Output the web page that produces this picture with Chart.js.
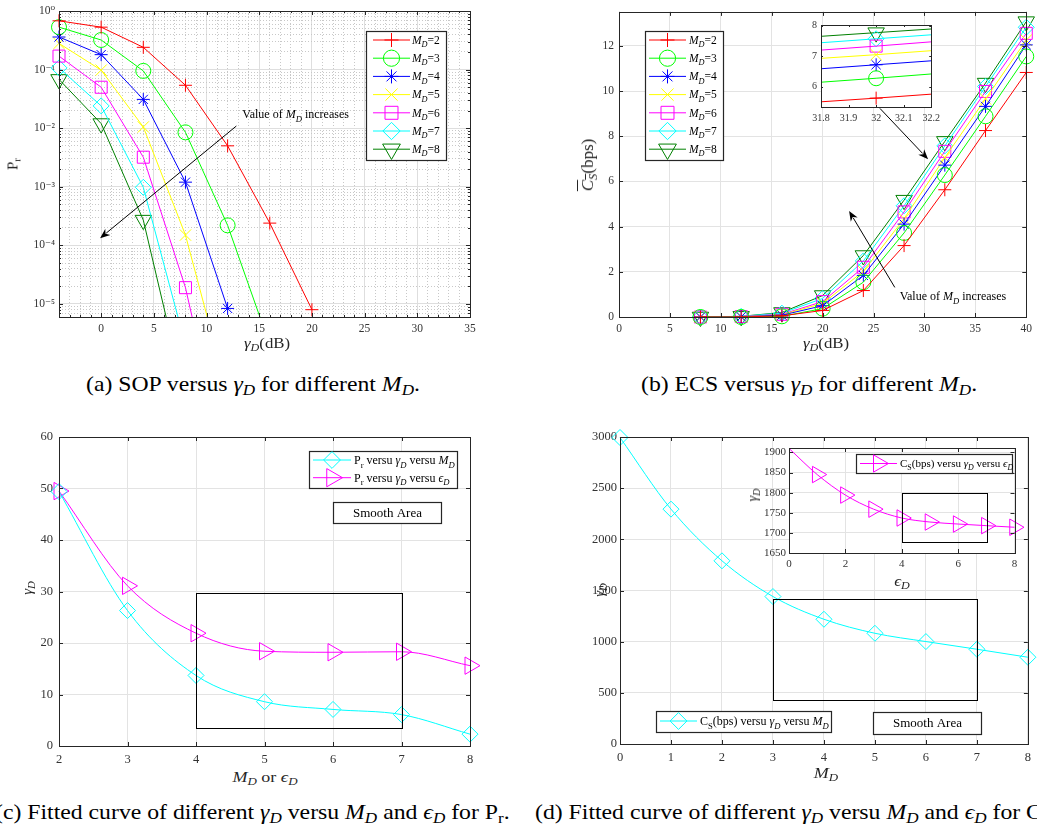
<!DOCTYPE html>
<html lang="en">
<head>
<meta charset="UTF-8" />
<title>SOP and ECS versus gamma_D</title>
<script src="https://cdn.jsdelivr.net/npm/chart.js"></script>
<style>
  body { margin: 0; background: #fff; width: 1037px; height: 827px; overflow: hidden; position: relative;
         font-family: "Liberation Serif", "DejaVu Serif", serif; color: #262626; }
  canvas { position: absolute; }
  .lbl { position: absolute; white-space: nowrap; transform: translate(-50%, -50%); font-size: 14px; }
  .wide { transform: translate(-50%, -50%) scaleX(1.2); }
  .rot { transform: translate(-50%, -50%) rotate(-90deg); }
  .cap { position: absolute; white-space: nowrap; font-size: 21px; color: #000;
         transform: translateY(-50%) scaleX(1.13); transform-origin: left center; }
  sub { font-size: 72%; vertical-align: -0.3em; line-height: 0; }
</style>
</head>
<body>
<canvas id="cA" width="520" height="340" style="left:0;top:0"></canvas>
<canvas id="cB" width="517" height="340" style="left:520px;top:0"></canvas>
<canvas id="cBi" width="165" height="110" style="left:780px;top:15px"></canvas>
<canvas id="cC" width="520" height="345" style="left:0;top:420px"></canvas>
<canvas id="cD" width="517" height="345" style="left:520px;top:420px"></canvas>
<canvas id="cDi" width="285" height="140" style="left:740px;top:435px"></canvas>

<!-- axis titles -->
<div class="lbl wide" style="left:267px;top:344px"><i>γ<sub>D</sub></i>(dB)</div>
<div class="lbl rot" style="left:13px;top:164px;font-size:15px">P<sub>r</sub></div>
<div class="lbl wide" style="left:826px;top:344px"><i>γ<sub>D</sub></i>(dB)</div>
<div class="lbl rot" style="left:588px;top:165px;font-size:17px"><span style="text-decoration:overline"><i>C<sub>S</sub></i></span>(bps)</div>
<div class="lbl wide" style="left:265px;top:777px;font-size:15px"><i>M<sub>D</sub></i> or <i>ϵ<sub>D</sub></i></div>
<div class="lbl rot" style="left:27px;top:588px;font-size:15px"><i>γ<sub>D</sub></i></div>
<div class="lbl wide" style="left:826px;top:773px;font-size:15px"><i>M<sub>D</sub></i></div>
<div class="lbl rot" style="left:599px;top:590px;font-size:15px"><i>γ<sub>D</sub></i></div>
<div class="lbl rot" style="left:753px;top:495px;font-size:14px"><i>γ<sub>D</sub></i></div>
<div class="lbl wide" style="left:902px;top:582px;font-size:14px"><i>ϵ<sub>D</sub></i></div>

<!-- captions -->
<div class="cap" style="left:86px;top:384px">(a) SOP versus <i>γ<sub>D</sub></i> for different <i>M<sub>D</sub></i>.</div>
<div class="cap" style="left:641px;top:384px">(b) ECS versus <i>γ<sub>D</sub></i> for different <i>M<sub>D</sub></i>.</div>
<div class="cap" style="left:-5px;top:812px">(c) Fitted curve of different <i>γ<sub>D</sub></i> versu <i>M<sub>D</sub></i> and <i>ϵ<sub>D</sub></i> for P<sub>r</sub>.</div>
<div class="cap" style="left:535px;top:812px">(d) Fitted curve of different <i>γ<sub>D</sub></i> versu <i>M<sub>D</sub></i> and <i>ϵ<sub>D</sub></i> for C<sub>S</sub>.</div>

<script>
// ---- data ----
const mdValues = [2, 3, 4, 5, 6, 7, 8];

// (a) SOP versus gamma_D
const snrA = [-4, 0, 4, 8, 12, 16, 20];
const sopM2 = [0.68, 0.53, 0.24, 0.054, 0.005, 2.4e-4, 8e-6];
const sopM3 = [0.53, 0.32, 0.095, 0.0085, 2.2e-4, 2e-6];
const sopM4 = [0.36, 0.18, 0.031, 1.2e-3, 8.4e-6];
const sopM5 = [0.28, 0.098, 0.0105, 1.5e-4, 3e-7];
const sopM6 = [0.17, 0.05, 3.2e-3, 1.9e-5, 1.3e-8];
const sopM7 = [0.107, 0.024, 9.8e-4, 2e-6];
const sopM8 = [0.068, 0.012, 2.7e-4, 2.4e-7];

// (b) ECS versus gamma_D
const snrB = [8, 12, 16, 20, 24, 28, 32, 36, 40];
const ecsM2 = [0, 0, 0.05, 0.29, 1.17, 3.16, 5.63, 8.25, 10.82];
const ecsM3 = [0, 0, 0.03, 0.37, 1.54, 3.72, 6.28, 8.88, 11.53];
const ecsM4 = [0, 0.01, 0.08, 0.5, 1.84, 4.11, 6.72, 9.32, 12.04];
const ecsM5 = [0, 0.01, 0.1, 0.6, 2.02, 4.35, 7.05, 9.65, 12.25];
const ecsM6 = [0, 0.02, 0.12, 0.68, 2.2, 4.65, 7.33, 9.98, 12.55];
const ecsM7 = [0, 0.03, 0.17, 0.82, 2.48, 4.92, 7.57, 10.2, 12.82];
const ecsM8 = [0, 0.03, 0.2, 0.95, 2.72, 5.17, 7.77, 10.35, 13.07];

// (b) zoomed inset around gamma_D = 32 dB
const snrZoom = [31.8, 32, 32.2];
const zoomM2 = [5.51, 5.63, 5.76];
const zoomM3 = [6.15, 6.28, 6.42];
const zoomM4 = [6.59, 6.72, 6.85];
const zoomM5 = [6.93, 7.05, 7.18];
const zoomM6 = [7.2, 7.33, 7.47];
const zoomM7 = [7.44, 7.57, 7.7];
const zoomM8 = [7.65, 7.77, 7.89];

// (c) fitted gamma_D for Pr
const xC = [2, 3, 4, 5, 6, 7, 8];
const gammaVsMd = [49.4, 26.3, 13.7, 8.6, 7.1, 6.1, 2.3];
const gammaVsEps = [49.5, 31.1, 21.9, 18.4, 18.2, 18.3, 15.6];

// (d) fitted gamma_D for Cs
const xD = [0, 1, 2, 3, 4, 5, 6, 7, 8];
const csVsMd = [2995, 2295, 1790, 1441, 1219, 1082, 1001, 926, 848];
const epsD = [0, 1, 2, 3, 4, 5, 6, 7, 8];
const csVsEps = [1910, 1845, 1794, 1759, 1737, 1727, 1722, 1718, 1714];

// smooth areas (data coords: x0, x1, y0, y1)
const smoothC = [4, 7, 3.6, 29.8];
const smoothD = [3, 7, 430, 1415];
const smoothDi = [4, 7, 1679, 1800];

// ticks
const xTicksA = []; for (let v = -4; v <= 35; v++) xTicksA.push(v);
const yTicksA = [];
for (let e = -6; e <= 0; e++) for (let m = 1; m <= 9; m++) { const v = m * Math.pow(10, e); if (v >= 6e-6 && v <= 1.0001) yTicksA.push(v); }
const xTicksB = [0, 5, 10, 15, 20, 25, 30, 35, 40];
const yTicksB = [0, 2, 4, 6, 8, 10, 12];
const xTicksZoom = [31.8, 31.9, 32, 32.1, 32.2];
const yTicksZoom = [6, 7, 8];
const xTicksC = [2, 3, 4, 5, 6, 7, 8];
const yTicksC = [0, 10, 20, 30, 40, 50, 60];
const xTicksD = [0, 1, 2, 3, 4, 5, 6, 7, 8];
const yTicksD = [0, 500, 1000, 1500, 2000, 2500, 3000];
const xTicksDi = [0, 2, 4, 6, 8];
const yTicksDi = [1650, 1700, 1750, 1800, 1850, 1900];

// ---- styles ----
const mdColors = ['#ff0000', '#00ff00', '#0000ff', '#ffff00', '#ff00ff', '#00ffff', '#008000'];
const mdStyles = ['cross', 'circle', 'star', 'crossRot', 'rect', 'rectRot', 'triangle'];
const mdRadius = [6.5, 7.5, 6.5, 8, 8.5, 8, 9.5];
const mdRotation = [0, 0, 0, 0, 0, 0, 180];
const FONT = '"Liberation Serif", "DejaVu Serif", serif';

Chart.defaults.font.family = FONT;
Chart.defaults.font.size = 12;
Chart.defaults.color = '#333';
Chart.defaults.animation = false;
Chart.defaults.responsive = false;

const isDecade = v => Math.abs(Math.log10(v) - Math.round(Math.log10(v))) < 1e-9;
const supMap = { '0': '⁰', '1': '¹', '2': '²', '3': '³', '4': '⁴', '5': '⁵', '6': '⁶', '7': '⁷', '8': '⁸', '9': '⁹', '-': '⁻' };
const sup = n => String(n).split('').map(c => supMap[c]).join('');

function mdDatasets(xs, series, extra, radiusList) {
  return series.map((ys, i) => Object.assign({
    label: 'M_D=' + mdValues[i],
    data: ys.map((y, j) => ({ x: xs[j], y: y })),
    borderColor: mdColors[i],
    borderWidth: 1,
    pointStyle: mdStyles[i],
    pointRadius: radiusList ? radiusList.map(r => r && mdRadius[i]) : mdRadius[i],
    pointRotation: mdRotation[i],
    pointBorderColor: mdColors[i],
    pointBackgroundColor: 'rgba(0,0,0,0)',
    pointBorderWidth: 1
  }, extra));
}

function axis(o) {
  return {
    type: o.type || 'linear', min: o.min, max: o.max,
    afterFit: s => { if (o.w !== undefined) s.width = o.w; if (o.h !== undefined) s.height = o.h; },
    afterBuildTicks: s => { s.ticks = o.ticks.map(v => ({ value: v })); },
    ticks: { autoSkip: false, maxRotation: 0, padding: o.pad, font: { size: o.size || 12 }, callback: o.label || (v => String(v)) },
    grid: { display: o.grid !== false, drawTicks: false, color: o.gridColor || '#e3e3e3' },
    border: { display: false, dash: o.dash || [] }
  };
}

// ---- decoration plugin: box, inward ticks, legends, arrows, notes ----
function drawMarker(ctx, style, x, y, r, rot) {
  ctx.save(); ctx.translate(x, y); ctx.rotate((rot || 0) * Math.PI / 180);
  ctx.beginPath();
  const d = r * Math.SQRT1_2;
  if (style === 'cross' || style === 'star') { ctx.moveTo(-r, 0); ctx.lineTo(r, 0); ctx.moveTo(0, -r); ctx.lineTo(0, r); }
  if (style === 'crossRot' || style === 'star') { ctx.moveTo(-d, -d); ctx.lineTo(d, d); ctx.moveTo(-d, d); ctx.lineTo(d, -d); }
  if (style === 'circle') ctx.arc(0, 0, r, 0, Math.PI * 2);
  if (style === 'rect') ctx.rect(-d, -d, 2 * d, 2 * d);
  if (style === 'rectRot') { ctx.moveTo(0, -r); ctx.lineTo(r, 0); ctx.lineTo(0, r); ctx.lineTo(-r, 0); ctx.closePath(); }
  if (style === 'triangle') {
    for (let k = 0; k < 3; k++) { const a = k * 2 * Math.PI / 3; ctx[k ? 'lineTo' : 'moveTo'](Math.sin(a) * r, -Math.cos(a) * r); }
    ctx.closePath();
  }
  ctx.stroke(); ctx.restore();
}

function drawRich(ctx, segs, x, y, size) {
  ctx.textAlign = 'left'; ctx.textBaseline = 'alphabetic'; ctx.fillStyle = '#000';
  const base = y + size * 0.33;
  segs.forEach(([t, f]) => {
    const it = f.indexOf('i') >= 0, sb = f.indexOf('s') >= 0;
    const fs = sb ? size * 0.72 : size;
    ctx.font = (it ? 'italic ' : '') + fs + 'px ' + FONT;
    ctx.fillText(t, x, base + (sb ? size * 0.3 : 0));
    x += ctx.measureText(t).width;
  });
}

function drawArrow(ctx, x0, y0, x1, y1) {
  const a = Math.atan2(y1 - y0, x1 - x0), L = 10, W = 4;
  ctx.strokeStyle = '#000'; ctx.fillStyle = '#000'; ctx.lineWidth = 1;
  ctx.beginPath(); ctx.moveTo(x0, y0); ctx.lineTo(x1 - Math.cos(a) * L * 0.8, y1 - Math.sin(a) * L * 0.8); ctx.stroke();
  ctx.beginPath();
  ctx.moveTo(x1, y1);
  ctx.lineTo(x1 - Math.cos(a) * L + Math.sin(a) * W, y1 - Math.sin(a) * L - Math.cos(a) * W);
  ctx.lineTo(x1 - Math.cos(a) * L * 0.7, y1 - Math.sin(a) * L * 0.7);
  ctx.lineTo(x1 - Math.cos(a) * L - Math.sin(a) * W, y1 - Math.sin(a) * L + Math.cos(a) * W);
  ctx.closePath(); ctx.fill();
}

const mdLegendEntries = mdValues.map((m, i) => ({ ds: i, segs: [['M', 'i'], ['D', 'is'], ['=' + m, '']] }));
const mdLegendRows = [40, 58.2, 76.4, 94.6, 112.8, 131, 149.2];

const decoCfg = {
  cA: {
    xTick: v => (v % 5 === 0 ? 4 : 2), yTick: v => (isDecade(v) ? 4 : 2),
    arrows: [[12.83, 0.0109, -0.1, 1.33e-4]],
    notes: [{ at: [13.4, 0.0174], size: 12, segs: [['Value of ', ''], ['M', 'i'], ['D', 'is'], [' increases', '']] }],
    legend: { box: [366, 31, 80, 129], rows: mdLegendRows, line: [373, 410], textX: 412, size: 11.5, scale: 1.08, entries: mdLegendEntries }
  },
  cB: {
    arrows: [[25.63, 9.23, 30.36, 6.98], [27.09, 1.31, 22.6, 4.69]],
    notes: [{ at: [27.57, 0.91], size: 12, segs: [['Value of ', ''], ['M', 'i'], ['D', 'is'], [' increases', '']] }],
    legend: { box: [125, 31, 78, 129], rows: mdLegendRows, line: [129, 166], textX: 169, size: 11.5, scale: 1.08, entries: mdLegendEntries }
  },
  cBi: { white: true, xTick: () => 2, yTick: () => 2 },
  cC: {
    boxes: [smoothC],
    labels: [{ box: [333, 82, 108, 21], text: 'Smooth Area', size: 13 }],
    legend: { box: [309, 31, 148, 37], rows: [40, 57.7], line: [313, 351], textX: 354, size: 12, scale: 1.05, entries: [
      { ds: 0, segs: [['P', ''], ['r', 's'], [' versu ', ''], ['γ', 'i'], ['D', 'is'], [' versu ', ''], ['M', 'i'], ['D', 'is']] },
      { ds: 1, segs: [['P', ''], ['r', 's'], [' versu ', ''], ['γ', 'i'], ['D', 'is'], [' versu ', ''], ['ϵ', 'i'], ['D', 'is']] }] }
  },
  cD: {
    boxes: [smoothD],
    labels: [{ box: [353, 292, 108, 22], text: 'Smooth Area', size: 13 }],
    legend: { box: [136, 291, 175, 21], rows: [301], line: [140, 177], textX: 180, size: 12, scale: 1.05, entries: [
      { ds: 0, segs: [['C', ''], ['S', 's'], ['(bps) versu ', ''], ['γ', 'i'], ['D', 'is'], [' versu ', ''], ['M', 'i'], ['D', 'is']] }] }
  },
  cDi: {
    white: true,
    boxes: [smoothDi],
    legend: { box: [116, 19, 156, 19], rows: [28.5], line: [120, 157], textX: 160, size: 11, scale: 1.05, entries: [
      { ds: 0, segs: [['C', ''], ['S', 's'], ['(bps) versu ', ''], ['γ', 'i'], ['D', 'is'], [' versu ', ''], ['ϵ', 'i'], ['D', 'is']] }] }
  }
};

const deco = {
  id: 'deco',
  beforeDraw(chart) {
    const cfg = decoCfg[chart.canvas.id];
    if (!cfg || !cfg.white) return;
    const a = chart.chartArea, ctx = chart.ctx;
    ctx.save(); ctx.fillStyle = '#fff'; ctx.fillRect(a.left, a.top, a.right - a.left, a.bottom - a.top); ctx.restore();
  },
  afterDatasetsDraw(chart) {
    const cfg = decoCfg[chart.canvas.id];
    if (!cfg) return;
    const ctx = chart.ctx, a = chart.chartArea, sx = chart.scales.x, sy = chart.scales.y;
    ctx.save();
    ctx.strokeStyle = '#262626'; ctx.lineWidth = 1;
    ctx.beginPath();
    sx.ticks.forEach(t => {
      const p = Math.round(sx.getPixelForValue(t.value)) + 0.5, L = cfg.xTick ? cfg.xTick(t.value) : 4;
      ctx.moveTo(p, a.bottom); ctx.lineTo(p, a.bottom - L); ctx.moveTo(p, a.top); ctx.lineTo(p, a.top + L);
    });
    sy.ticks.forEach(t => {
      const p = Math.round(sy.getPixelForValue(t.value)) + 0.5, L = cfg.yTick ? cfg.yTick(t.value) : 4;
      ctx.moveTo(a.left, p); ctx.lineTo(a.left + L, p); ctx.moveTo(a.right, p); ctx.lineTo(a.right - L, p);
    });
    ctx.stroke();
    ctx.strokeRect(Math.round(a.left) + 0.5, Math.round(a.top) + 0.5, Math.round(a.right - a.left), Math.round(a.bottom - a.top));

    (cfg.boxes || []).forEach(b => {
      const x0 = sx.getPixelForValue(b[0]), x1 = sx.getPixelForValue(b[1]);
      const y0 = sy.getPixelForValue(b[2]), y1 = sy.getPixelForValue(b[3]);
      ctx.strokeStyle = '#000'; ctx.lineWidth = 1;
      ctx.strokeRect(Math.round(x0) + 0.5, Math.round(y1) + 0.5, Math.round(x1 - x0), Math.round(y0 - y1));
    });
    (cfg.arrows || []).forEach(r => drawArrow(ctx, sx.getPixelForValue(r[0]), sy.getPixelForValue(r[1]), sx.getPixelForValue(r[2]), sy.getPixelForValue(r[3])));
    (cfg.notes || []).forEach(n => drawRich(ctx, n.segs, sx.getPixelForValue(n.at[0]), sy.getPixelForValue(n.at[1]), n.size));
    (cfg.labels || []).forEach(l => {
      const [x, y, w, h] = l.box;
      ctx.fillStyle = '#fff'; ctx.fillRect(x, y, w, h);
      ctx.strokeStyle = '#262626'; ctx.lineWidth = 1.2; ctx.strokeRect(x + 0.5, y + 0.5, w, h);
      ctx.fillStyle = '#000'; ctx.font = l.size + 'px ' + FONT; ctx.textAlign = 'center'; ctx.textBaseline = 'middle';
      ctx.fillText(l.text, x + w / 2 + 0.5, y + h / 2 + 1);
    });
    const lg = cfg.legend;
    if (lg) {
      const [x, y, w, h] = lg.box;
      ctx.fillStyle = '#fff'; ctx.fillRect(x, y, w, h);
      ctx.strokeStyle = '#262626'; ctx.lineWidth = 1.2; ctx.strokeRect(x + 0.5, y + 0.5, w, h);
      lg.entries.forEach((e, k) => {
        const ds = chart.data.datasets[e.ds], ry = lg.rows[k];
        const r = (Array.isArray(ds.pointRadius) ? Math.max.apply(null, ds.pointRadius) : ds.pointRadius) * lg.scale;
        ctx.strokeStyle = ds.borderColor; ctx.lineWidth = 1;
        ctx.beginPath(); ctx.moveTo(lg.line[0], ry); ctx.lineTo(lg.line[1], ry); ctx.stroke();
        drawMarker(ctx, ds.pointStyle, (lg.line[0] + lg.line[1]) / 2, ry, r, ds.pointRotation);
        drawRich(ctx, e.segs, lg.textX, ry, lg.size);
      });
    }
    ctx.restore();
  }
};
Chart.register(deco);

const baseOpts = padding => ({
  layout: { padding: padding },
  plugins: { legend: { display: false }, tooltip: { enabled: false } },
  elements: { line: { borderWidth: 1 } }
});

// (a)
new Chart(document.getElementById('cA'), {
  type: 'line',
  data: { datasets: mdDatasets(snrA, [sopM2, sopM3, sopM4, sopM5, sopM6, sopM7, sopM8], { clip: { left: 20, right: 20, top: 20, bottom: 0 } }) },
  options: Object.assign(baseOpts({ top: 11, right: 50, left: 0, bottom: 0 }), {
    scales: {
      x: axis({ min: -4, max: 35, ticks: xTicksA, h: 23, pad: 5, size: 11.5,
        label: v => (v % 5 === 0 ? String(v) : '') }),
      y: axis({ type: 'logarithmic', min: 6e-6, max: 1, ticks: yTicksA, w: 59, pad: 4, size: 11.5,
        label: v => (isDecade(v) ? '10' + sup(Math.round(Math.log10(v))) : '') })
    }
  })
});
(function () {
  const ch = Chart.getChart('cA');
  ch.options.scales.x.grid.color = c => (c.tick && c.tick.value % 5 === 0 ? '#dedede' : '#c8c8c8');
  ch.options.scales.x.border.dash = c => (c.tick && c.tick.value % 5 === 0 ? [] : [1, 2]);
  ch.options.scales.y.grid.color = c => (c.tick && isDecade(c.tick.value) ? '#dedede' : '#c8c8c8');
  ch.options.scales.y.border.dash = c => (c.tick && isDecade(c.tick.value) ? [] : [1, 2]);
  ch.update();
})();

// (b)
new Chart(document.getElementById('cB'), {
  type: 'line',
  data: { datasets: mdDatasets(snrB, [ecsM2, ecsM3, ecsM4, ecsM5, ecsM6, ecsM7, ecsM8], { clip: false }) },
  options: Object.assign(baseOpts({ top: 10, right: 6, left: 0, bottom: 0 }), {
    scales: {
      x: axis({ min: 0, max: 40, ticks: xTicksB, h: 23, pad: 5, size: 11.5 }),
      y: axis({ min: 0, max: 13.5, ticks: yTicksB, w: 99, pad: 5, size: 11.5 })
    }
  })
});

// (b) inset
new Chart(document.getElementById('cBi'), {
  type: 'line',
  data: { datasets: mdDatasets(snrZoom, [zoomM2, zoomM3, zoomM4, zoomM5, zoomM6, zoomM7, zoomM8], { clip: false }, [0, 1, 0]) },
  options: Object.assign(baseOpts({ top: 10, right: 13, left: 0, bottom: 0 }), {
    scales: {
      x: axis({ min: 31.8, max: 32.2, ticks: xTicksZoom, h: 18, pad: 5, size: 10, grid: false, label: v => String(+v.toFixed(1)) }),
      y: axis({ min: 5.34, max: 8.02, ticks: yTicksZoom, w: 41, pad: 4, size: 10, grid: false })
    }
  })
});

// (c)
const fitStyle = (color, style, r, rot) => ({
  borderColor: color, borderWidth: 1, pointStyle: style, pointRadius: r, pointRotation: rot,
  pointBorderColor: color, pointBackgroundColor: 'rgba(0,0,0,0)', pointBorderWidth: 1,
  cubicInterpolationMode: 'monotone', clip: false
});
new Chart(document.getElementById('cC'), {
  type: 'line',
  data: { datasets: [
    Object.assign({ label: 'Pr versu gammaD versu MD', data: xC.map((x, i) => ({ x: x, y: gammaVsMd[i] })) }, fitStyle('#00ffff', 'rectRot', 8, 0)),
    Object.assign({ label: 'Pr versu gammaD versu epsD', data: xC.map((x, i) => ({ x: x, y: gammaVsEps[i] })) }, fitStyle('#ff00ff', 'triangle', 10, 90))
  ] },
  options: Object.assign(baseOpts({ top: 17, right: 50, left: 0, bottom: 0 }), {
    scales: {
      x: axis({ min: 2, max: 8, ticks: xTicksC, h: 19, pad: 6, size: 12.5 }),
      y: axis({ min: 0, max: 60, ticks: yTicksC, w: 59, pad: 6, size: 12.5 })
    }
  })
});

// (d)
new Chart(document.getElementById('cD'), {
  type: 'line',
  data: { datasets: [
    Object.assign({ label: 'Cs versu gammaD versu MD', data: xD.map((x, i) => ({ x: x, y: csVsMd[i] })) }, fitStyle('#00ffff', 'rectRot', 8, 0))
  ] },
  options: Object.assign(baseOpts({ top: 17, right: 6, left: 0, bottom: 0 }), {
    scales: {
      x: axis({ min: 0, max: 8, ticks: xTicksD, h: 21, pad: 6, size: 12.5 }),
      y: axis({ min: 0, max: 3000, ticks: yTicksD, w: 100, pad: 3, size: 12.5 })
    }
  })
});

// (d) inset
new Chart(document.getElementById('cDi'), {
  type: 'line',
  data: { datasets: [
    Object.assign({ label: 'Cs versu gammaD versu epsD', data: epsD.map((x, i) => ({ x: x, y: csVsEps[i] })) },
      fitStyle('#ff00ff', 'triangle', epsD.map((x, i) => (i === 0 ? 0 : 9.5)), 90))
  ] },
  options: Object.assign(baseOpts({ top: 13, right: 8, left: 0, bottom: 0 }), {
    scales: {
      x: axis({ min: 0, max: 8, ticks: xTicksDi, h: 22, pad: 5, size: 11 }),
      y: axis({ min: 1650, max: 1911, ticks: yTicksDi, w: 49, pad: 3, size: 11 })
    }
  })
});
</script>
</body>
</html>
